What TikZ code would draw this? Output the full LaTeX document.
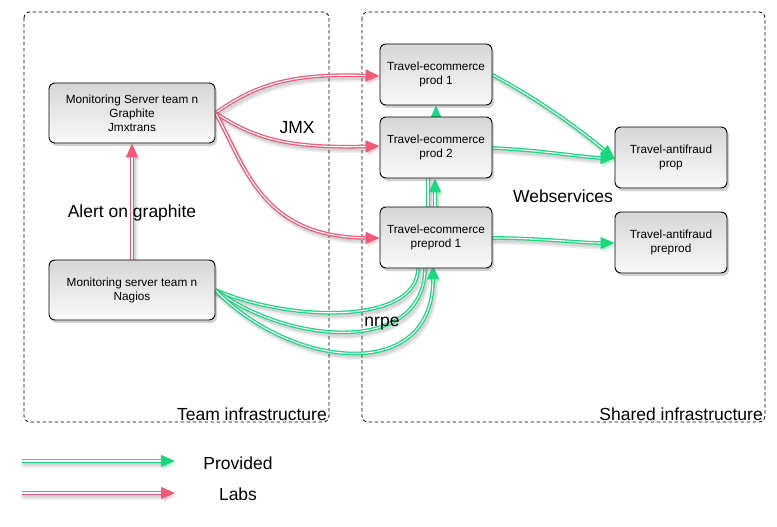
\documentclass[tikz,border=0pt]{standalone}
\usepackage{fontspec}
\setmainfont{Liberation Sans}
\usetikzlibrary{arrows.meta,shadows,calc}
\definecolor{labred}{RGB}{238,90,120}
\definecolor{provgreen}{RGB}{28,214,128}
\pgfdeclarelayer{bg}
\pgfdeclarelayer{edges}
\pgfsetlayers{bg,edges,main}
\tikzset{
  box/.style={draw=black, line width=0.9pt, rounded corners=6pt, align=center,
    top color=gray!32, bottom color=gray!4, inner sep=2pt,
    font=\fontsize{11.8}{14}\selectfont,
    drop shadow={shadow xshift=2pt, shadow yshift=-3pt, opacity=0.35}},
  wide/.style={box, minimum width=166pt, minimum height=60pt},
  narrow/.style={box, minimum width=112pt, minimum height=61pt},
  zone/.style={draw=black, dash pattern=on 3.5pt off 2.5pt, line width=0.8pt, rounded corners=6pt},
  big/.style={font=\fontsize{17.5}{20}\selectfont, inner sep=0pt},
  shad/.style={preaction={draw=black, opacity=0.07, line width=7pt, line cap=round,
      transform canvas={shift={(2pt,-3pt)}}},
    preaction={draw=black, opacity=0.09, line width=3.5pt, line cap=round,
      transform canvas={shift={(2pt,-3pt)}}}},
  conn/.style={shad, draw=#1, line width=1.3pt, double=white, double distance=1.1pt,
    -{Triangle[length=14pt,width=12pt,color=#1]}},
  connplain/.style={shad, draw=#1, line width=1.3pt, double=white, double distance=1.1pt},
  lab/.style={conn=labred},
  prov/.style={conn=provgreen},
  provplain/.style={connplain=provgreen},
}
\begin{document}
\begin{tikzpicture}[x=1pt,y=-1pt]
\useasboundingbox (0,0) rectangle (777,527);

% zones
\begin{pgfonlayer}{bg}
\fill[white] (0,0) rectangle (777,527);
\draw[zone] (24,12) rectangle (329,422);
\draw[zone] (362,12) rectangle (765,422);
\end{pgfonlayer}
\node[big, anchor=base east] (teamlbl) at (327,420) {Team infrastructure};
\node[big, anchor=base east] (sharedlbl) at (763,420) {Shared infrastructure};

% nodes
\node[wide] (graphite) at (132,113) {Monitoring Server team n\\Graphite\\Jmxtrans};
\node[wide] (nagios) at (132,290) {Monitoring server team n\\Nagios};
\node[narrow] (prod1) at (436,74.5) {Travel-ecommerce\\prod 1};
\node[narrow] (prod2) at (436,147.5) {Travel-ecommerce\\prod 2};
\node[narrow] (preprod1) at (436,237.5) {Travel-ecommerce\\preprod 1};
\node[narrow] (afprop) at (671,157.5) {Travel-antifraud\\prop};
\node[narrow] (afpreprod) at (671,242.5) {Travel-antifraud\\preprod};

% labels
\node[big] (jmx) at (297,128) {JMX};
\node[big] (alert) at (132,213) {Alert on graphite};
\node[big] (ws) at (563,196) {Webservices};
\node[big] (nrpe) at (382,324) {nrpe};

% edges
\begin{pgfonlayer}{edges}
\draw[lab] (nagios.north) -- (graphite.south);
\draw[lab] (graphite.east) .. controls (255,85) and (290,73) .. ([yshift=-1.5pt]prod1.west);
\draw[lab] (graphite.east) .. controls (250,135) and (280,149) .. ([yshift=1.5pt]prod2.west);
\draw[lab] (graphite.east) .. controls (245,165) and (260,237) .. ([yshift=-0.5pt]preprod1.west);

\draw[provplain] (nagios.east) .. controls (290,322) and (417,325) .. ([xshift=-18pt]preprod1.south);
\draw[provplain] (nagios.east) .. controls (290,345) and (424,355) .. ([xshift=-11pt]preprod1.south);
\draw[prov] (nagios.east) .. controls (290,368) and (433,385) .. ([xshift=-3pt,yshift=3pt]preprod1.south);

\draw[provplain] ([xshift=-8pt]preprod1.north) -- ([xshift=-8pt]prod2.south);
\draw[prov] ([xshift=-1pt]preprod1.north) -- ([xshift=-1pt]prod2.south);
\draw[prov] (prod2.north) -- (prod1.south);

\draw[prov] ([yshift=-0.5pt]prod1.east) .. controls (540,100) and (580,130) .. ([yshift=-1pt]afprop.west);
\draw[prov] ([yshift=-0.5pt]prod2.east) .. controls (540,150) and (580,157) .. ([yshift=-1pt]afprop.west);
\draw[prov] ([yshift=-0.5pt]preprod1.east) .. controls (540,238) and (580,243) .. ([yshift=-0.5pt]afpreprod.west);
\end{pgfonlayer}

% legend
\coordinate (g1) at (22,461);
\coordinate (g2) at (175,461);
\coordinate (r1) at (22,493);
\coordinate (r2) at (175,493);
\draw[prov] (g1) -- (g2);
\draw[lab] (r1) -- (r2);
\node[big] (provided) at (238,463) {Provided};
\node[big] (labs) at (238,494) {Labs};
\end{tikzpicture}
\end{document}
